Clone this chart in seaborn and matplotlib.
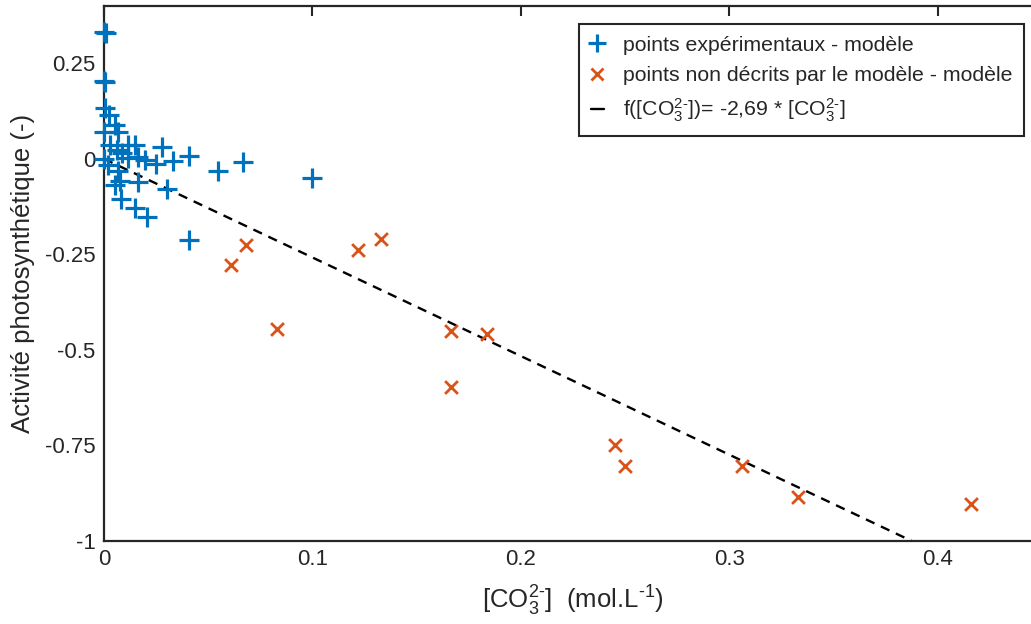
import numpy as np
import pandas as pd
import matplotlib
matplotlib.use("Agg")
import matplotlib.pyplot as plt
from matplotlib.lines import Line2D
import seaborn as sns

# ---- data ----
blue_x = [0.0, 0.001, 0.0005, 0.0, 0.0005, 0.0024, 0.0053, 0.0, 0.0069, 0.0029,
          0.006, 0.0117, 0.0149, 0.0277, 0.0085, 0.0117, 0.0165, 0.0197, 0.0250,
          0.0330, 0.041, 0.0545, 0.0665, 0.100, 0.0, 0.002, 0.0069, 0.0077,
          0.0053, 0.0165, 0.030, 0.008, 0.015, 0.0205, 0.041]
blue_y = [0.333, 0.330, 0.200, 0.205, 0.133, 0.115, 0.089, 0.071, 0.071, 0.037,
          0.024, 0.037, 0.037, 0.030, 0.015, 0.002, 0.006, -0.003, -0.014,
          -0.005, 0.008, -0.031, -0.007, -0.051, 0.0, -0.016, -0.033, -0.057,
          -0.068, -0.060, -0.080, -0.105, -0.129, -0.153, -0.212]

orange_x = [0.061, 0.068, 0.083, 0.122, 0.133, 0.1664, 0.1837, 0.1664,
            0.245, 0.250, 0.306, 0.333, 0.416]
orange_y = [-0.277, -0.225, -0.445, -0.238, -0.209, -0.450, -0.458, -0.597,
            -0.749, -0.804, -0.804, -0.885, -0.903]

line_x = [0.0, 0.3875]
line_y = [0.0, -1.0]

x_ticks = [0, 0.1, 0.2, 0.3, 0.4]
x_ticklabels = ["0", "0.1", "0.2", "0.3", "0.4"]
y_ticks = [-1, -0.75, -0.5, -0.25, 0, 0.25]
y_ticklabels = ["-1", "-0.75", "-0.5", "-0.25", "0", "0.25"]

legend_labels = ["points expérimentaux - modèle",
                 "points non décrits par le modèle - modèle",
                 r"f([CO$_3^{2\text{-}}$])= -2,69 * [CO$_3^{2\text{-}}$]"]

BLUE = "#0072BD"
ORANGE = "#D95319"
AX = "#262626"

sns.set_theme(style="white")
plt.rcParams["font.family"] = ["Liberation Sans", "DejaVu Sans"]
plt.rcParams["mathtext.fontset"] = "custom"
plt.rcParams["mathtext.rm"] = "Liberation Sans"
plt.rcParams["mathtext.it"] = "Liberation Sans:italic"
plt.rcParams["mathtext.bf"] = "Liberation Sans:bold"

W, H = 1031, 624
fig = plt.figure(figsize=(W / 100, H / 100), dpi=100)
ax = fig.add_axes([104 / W, 1 - 541 / H, (1042 - 104) / W, (541 - 6) / H])

df_b = pd.DataFrame({"x": blue_x, "y": blue_y})
df_o = pd.DataFrame({"x": orange_x, "y": orange_y})

sns.lineplot(x=line_x, y=line_y, ax=ax, color="black", lw=1.7,
             linestyle=(0, (4, 3)), zorder=2)
sns.scatterplot(data=df_b, x="x", y="y", ax=ax, marker="+", color=BLUE,
                s=190, linewidth=2.3, zorder=3, clip_on=False)
sns.scatterplot(data=df_o, x="x", y="y", ax=ax, marker="x", color=ORANGE,
                s=85, linewidth=2.0, zorder=3, clip_on=False)

ax.set_xlim(0, 0.45)
ax.set_ylim(-1, 0.4)
ax.set_xticks(x_ticks)
ax.set_xticklabels(x_ticklabels)
ax.set_yticks(y_ticks)
ax.set_yticklabels(y_ticklabels)
ax.tick_params(direction="in", length=7, width=1.5, colors=AX, labelsize=16,
               top=True, right=True, labelcolor="#262626", pad=6)
for s in ax.spines.values():
    s.set_color(AX)
    s.set_linewidth(1.6)

ax.set_xlabel(r"[CO$_3^{2\text{-}}$]  (mol.L$^{\text{-}1}$)", fontsize=18.5,
              color=AX, labelpad=10)
ax.set_ylabel("Activité photosynthétique (-)", fontsize=18.5, color=AX,
              labelpad=7)

handles = [
    Line2D([], [], marker="+", color=BLUE, ls="none", markersize=13, mew=2.3),
    Line2D([], [], marker="x", color=ORANGE, ls="none", markersize=9, mew=2.0),
    Line2D([], [], color="black", lw=1.7, ls="-"),
]
leg = ax.legend(handles, legend_labels, loc="upper right",
                bbox_to_anchor=(1024 / W, 1 - 24 / H),
                bbox_transform=fig.transFigure, borderaxespad=0,
                fontsize=15.3, frameon=True, fancybox=False, framealpha=1,
                edgecolor=AX, handlelength=0.6, handletextpad=0.9,
                borderpad=0.55, labelspacing=0.55)
leg.get_frame().set_linewidth(1.5)

fig.savefig("out.png", dpi=100)
